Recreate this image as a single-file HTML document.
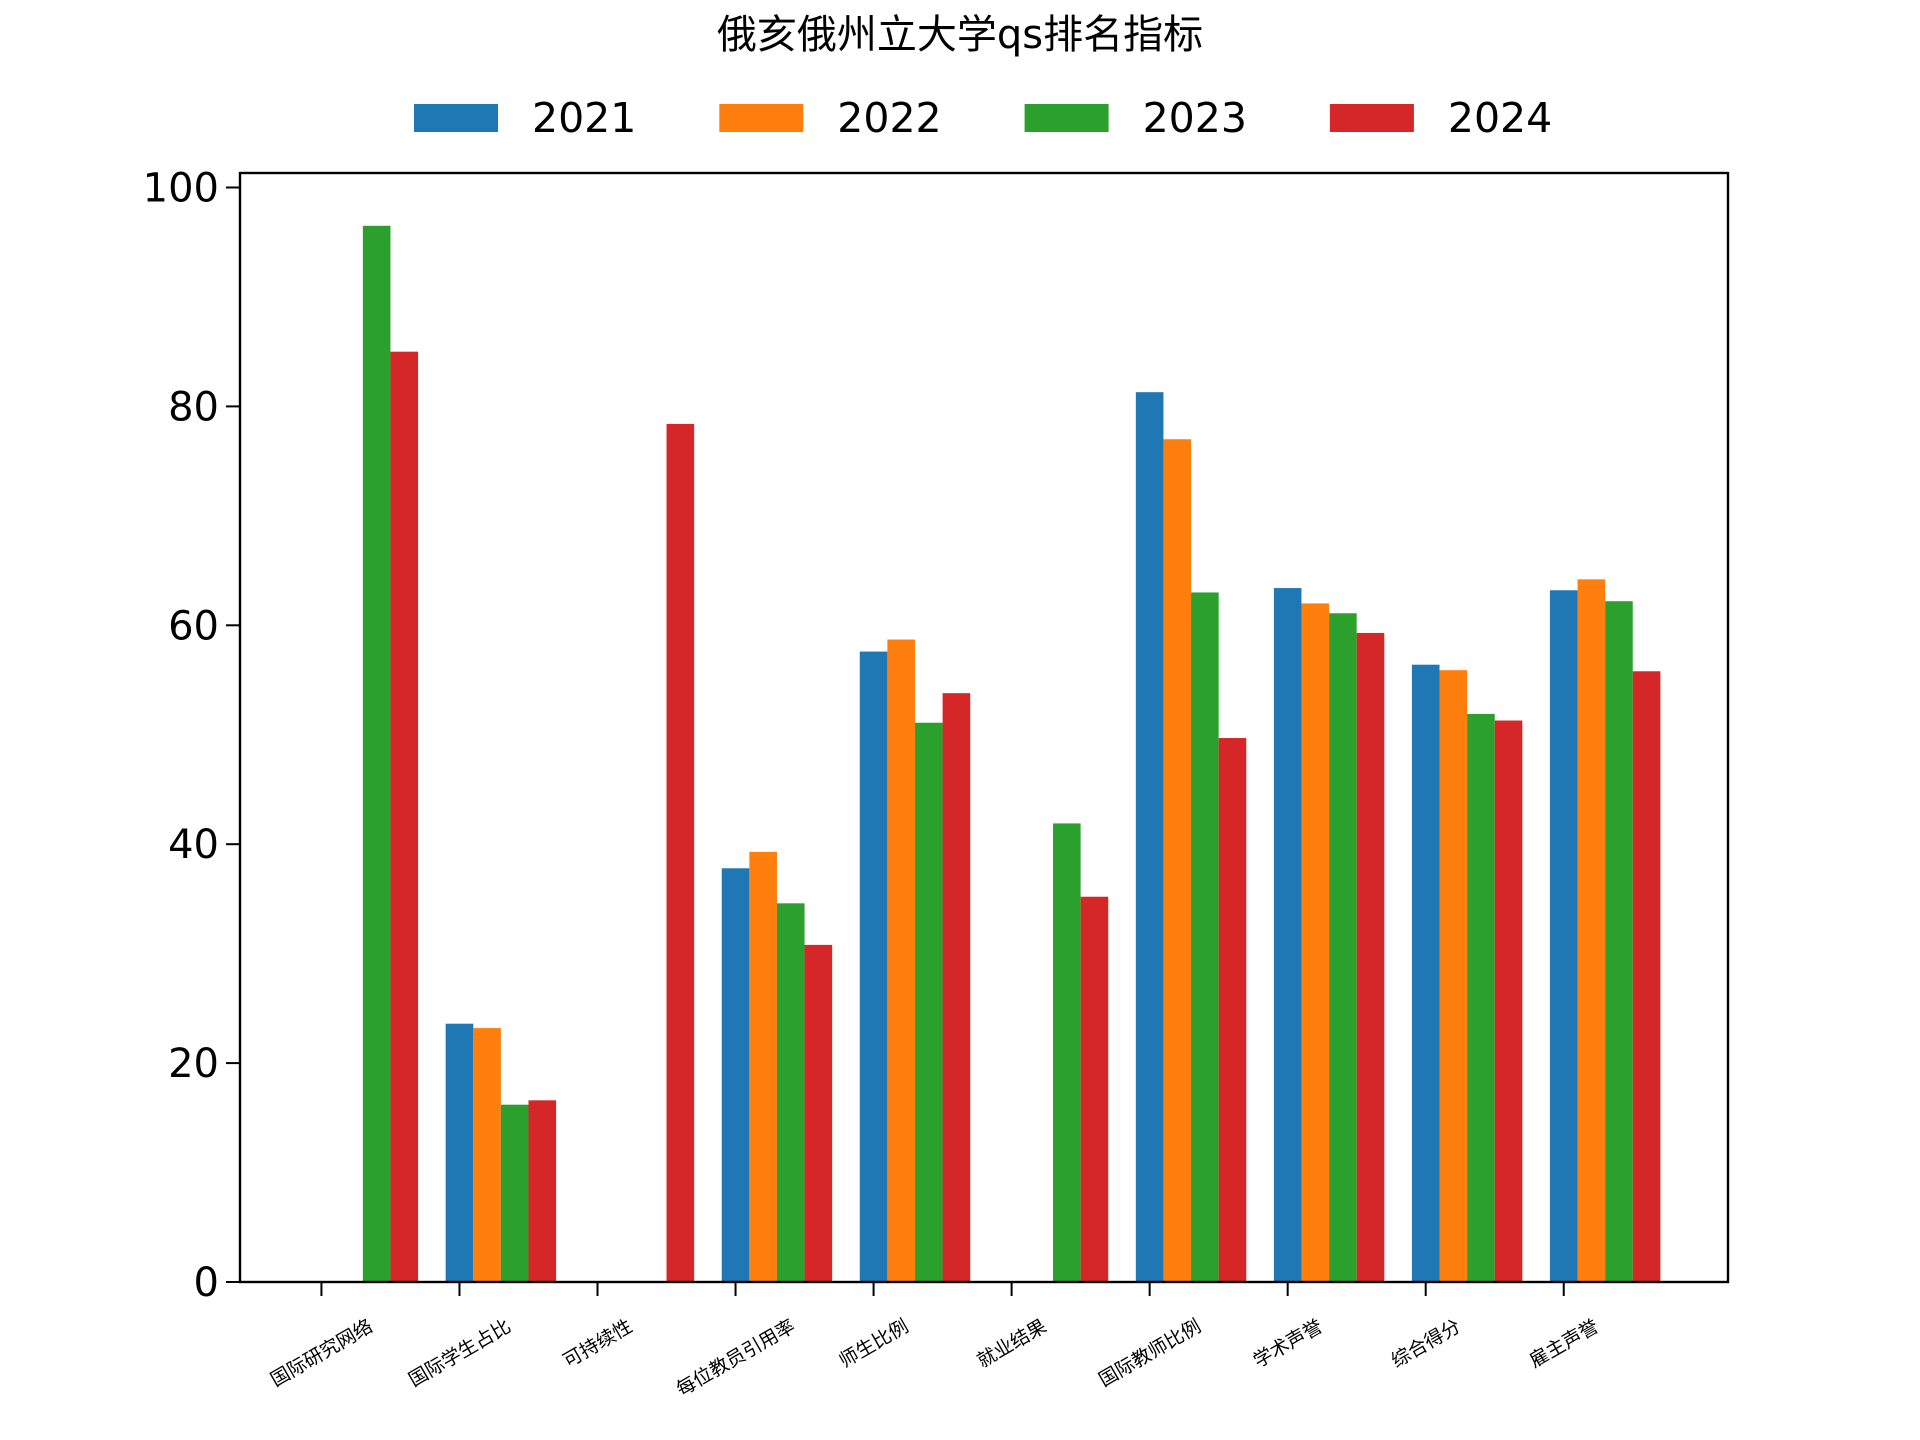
<!DOCTYPE html>
<html><head><meta charset="utf-8">
<style>
html,body{margin:0;padding:0;background:#fff;}
svg{display:block;font-family:"DejaVu Sans","Noto Sans CJK SC",sans-serif;}
</style></head>
<body>
<svg id="chart" width="1920" height="1440" viewBox="0 0 1920 1440" xmlns="http://www.w3.org/2000/svg">
<rect width="1920" height="1440" fill="#fff"/>
<text x="960" y="48" font-size="40" text-anchor="middle" font-family="'DejaVu Sans','Noto Sans CJK SC',sans-serif">俄亥俄州立大学qs排名指标</text>
<g id="bars"></g>
<g id="axes"></g>
<g id="legend"></g>
</svg>
<script>
const categories = ["国际研究网络","国际学生占比","可持续性","每位教员引用率","师生比例","就业结果","国际教师比例","学术声誉","综合得分","雇主声誉"];
const seriesNames = ["2021","2022","2023","2024"];
const s2021 = [0,23.6,0,37.8,57.6,0,81.3,63.4,56.4,63.2];
const s2022 = [0,23.2,0,39.3,58.7,0,77.0,62.0,55.9,64.2];
const s2023 = [96.5,16.2,0,34.6,51.1,41.9,63.0,61.1,51.9,62.2];
const s2024 = [85.0,16.6,78.4,30.8,53.8,35.2,49.7,59.3,51.3,55.8];
const yTicks = [0,20,40,60,80,100];
const colors = ["#1f77b4","#ff7f0e","#2ca02c","#d62728"];
const series = [s2021,s2022,s2023,s2024];

const NS="http://www.w3.org/2000/svg";
const L=240,R=1728,T=173,B=1282;
const barW=0.2;
const allVals=[].concat(...series);
const yMax=Math.max(...allVals)*1.05;
const xMin=-0.1, xMaxD=(categories.length-1)+0.1+barW*(series.length-1);
const pad=(xMaxD-xMin)*0.05;
const x0=xMin-pad, x1=xMaxD+pad;
function xs(v){return L+(v-x0)/(x1-x0)*(R-L);}
function ys(v){return B-v/yMax*(B-T);}
function mk(tag,attrs,parent){const e=document.createElementNS(NS,tag);for(const k in attrs)e.setAttribute(k,attrs[k]);parent.appendChild(e);return e;}

const gb=document.getElementById('bars');
series.forEach((s,si)=>{
  s.forEach((v,i)=>{
    const cx=i+si*barW;
    const r=mk('rect',{x:xs(cx-barW/2),y:ys(v),width:xs(cx+barW/2)-xs(cx-barW/2),height:B-ys(v),fill:colors[si]},gb);
    
    
  });
});

const ga=document.getElementById('axes');
const frame=mk('rect',{x:L,y:T,width:R-L,height:B-T,fill:'none',stroke:'#000','stroke-width':2.4},ga);


yTicks.forEach(t=>{
  const y=ys(t);
  mk('line',{x1:L-14,x2:L,y1:y,y2:y,stroke:'#000','stroke-width':2},ga);
  const tx=mk('text',{x:L-21,y:y+14,'font-size':40,'text-anchor':'end'},ga);
  tx.textContent=t;
  
  
});
categories.forEach((c,i)=>{
  const x=xs(i);
  mk('line',{x1:x,x2:x,y1:B,y2:B+14,stroke:'#000','stroke-width':2},ga);
  const f=19;
  const tx=mk('text',{'font-size':f,'text-anchor':'middle',
    'font-family':"'DejaVu Sans','Noto Sans CJK SC',sans-serif"},ga);
  tx.textContent=c;
  
  
  const Lw=c.length*f;
  const h=Lw*0.5+f*0.866;
  const cy=B+34+h/2;
  tx.setAttribute('transform','translate('+x+','+cy+') rotate(-30)');
  tx.setAttribute('y',f*0.35);
});

const gl=document.getElementById('legend');
seriesNames.forEach((n,i)=>{
  const px=414+i*305.3;
  const r=mk('rect',{x:px,y:104,width:84,height:28,fill:colors[i]},gl);
  
  
  const t=mk('text',{x:px+118,y:132,'font-size':41},gl);
  t.textContent=n;
  
  
});
</script>
</body></html>
